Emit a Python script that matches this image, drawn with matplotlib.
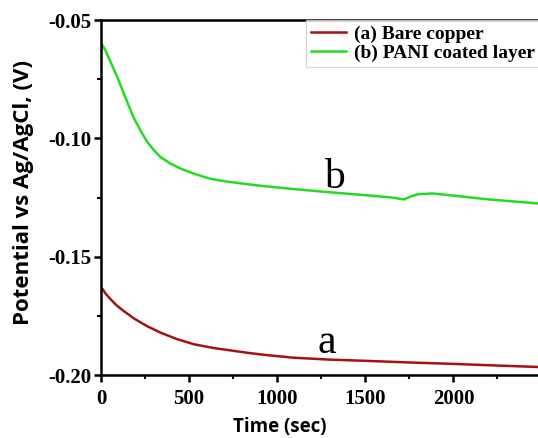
import matplotlib
matplotlib.use("Agg")
import matplotlib.pyplot as plt
from matplotlib.ticker import MultipleLocator, FormatStrFormatter

# values
t_bare = [0, 10, 25, 45, 65, 92, 130, 187, 260, 338, 430, 527, 640, 754, 850, 943,
          1095, 1300, 1500, 1750, 2000, 2250, 2480]
v_bare = [-0.1630, -0.1638, -0.1655, -0.1672, -0.1688, -0.1708, -0.1730, -0.1761,
          -0.1793, -0.1821, -0.1848, -0.1870, -0.1886, -0.1898, -0.1908, -0.1916,
          -0.1927, -0.1935, -0.1940, -0.1947, -0.1953, -0.1960, -0.1966]

t_pani = [0, 23, 50, 92, 140, 187, 230, 263, 300, 338, 390, 452, 530, 622, 700, 811,
          900, 1076, 1300, 1500, 1650, 1720, 1760, 1800, 1883, 2000, 2200, 2480]
v_pani = [-0.0597, -0.0625, -0.0670, -0.0740, -0.0830, -0.0915, -0.0975, -0.1015,
          -0.1050, -0.1079, -0.1105, -0.1128, -0.1150, -0.1171, -0.1181, -0.1192,
          -0.1200, -0.1213, -0.1228, -0.1240, -0.1250, -0.1258, -0.1245, -0.1236,
          -0.1233, -0.1242, -0.1258, -0.1275]

labels = ["(a) Bare copper", "(b) PANI coated layer"]
colors = ["#a81014", "#22dd22"]

serif = "Liberation Serif"

fig = plt.figure(figsize=(5.38, 4.38), dpi=100)
ax = fig.add_axes([0.1877, 0.1438, 0.8123, 0.8105])

ax.plot(t_bare, v_bare, color=colors[0], lw=1.8, label=labels[0])
ax.plot(t_pani, v_pani, color=colors[1], lw=1.8, label=labels[1])

ax.set_xlim(0, 2480)
ax.set_ylim(-0.20, -0.05)
ax.xaxis.set_major_locator(MultipleLocator(500))
ax.xaxis.set_minor_locator(MultipleLocator(250))
ax.yaxis.set_major_locator(MultipleLocator(0.05))
ax.yaxis.set_minor_locator(MultipleLocator(0.025))
ax.yaxis.set_major_formatter(FormatStrFormatter("%.2f"))

ax.tick_params(which="major", direction="out", length=5, width=1.8)
ax.tick_params(which="minor", direction="out", length=3, width=1.5)
ax.tick_params(axis="x", which="major", pad=5)
ax.tick_params(axis="y", which="major", pad=2)
for lab in ax.get_xticklabels() + ax.get_yticklabels():
    lab.set_fontfamily(serif)
    lab.set_fontweight("bold")
    lab.set_fontsize(15)

for s in ["left", "bottom", "top"]:
    ax.spines[s].set_linewidth(1.8)
ax.spines["right"].set_visible(False)

ax.set_xlabel("Time (sec)", fontfamily="Open Sans", fontweight="bold", fontsize=13.5)
ax.set_ylabel("Potential vs Ag/AgCl, (V)", fontfamily="Open Sans", fontweight="bold",
              fontsize=16)
ax.xaxis.set_label_coords(0.41, -0.118)
ax.yaxis.set_label_coords(-0.178, 0.515)
ax.yaxis.label.set_va("center")

ax.text(1280, -0.1864, "a", fontfamily=serif, fontsize=30, ha="center", va="center")
ax.text(1326, -0.1165, "b", fontfamily=serif, fontsize=30, ha="center", va="center")

leg = ax.legend(loc="upper left", bbox_to_anchor=(0.469, 1.0), borderaxespad=0,
                frameon=True, fancybox=False, borderpad=0.25, handlelength=1.8,
                handletextpad=0.4, labelspacing=0.1,
                prop={"family": serif, "weight": "bold", "size": 14})
leg.get_frame().set_edgecolor("#cccccc")
leg.get_frame().set_linewidth(0.8)

fig.savefig("out.png", dpi=100)
